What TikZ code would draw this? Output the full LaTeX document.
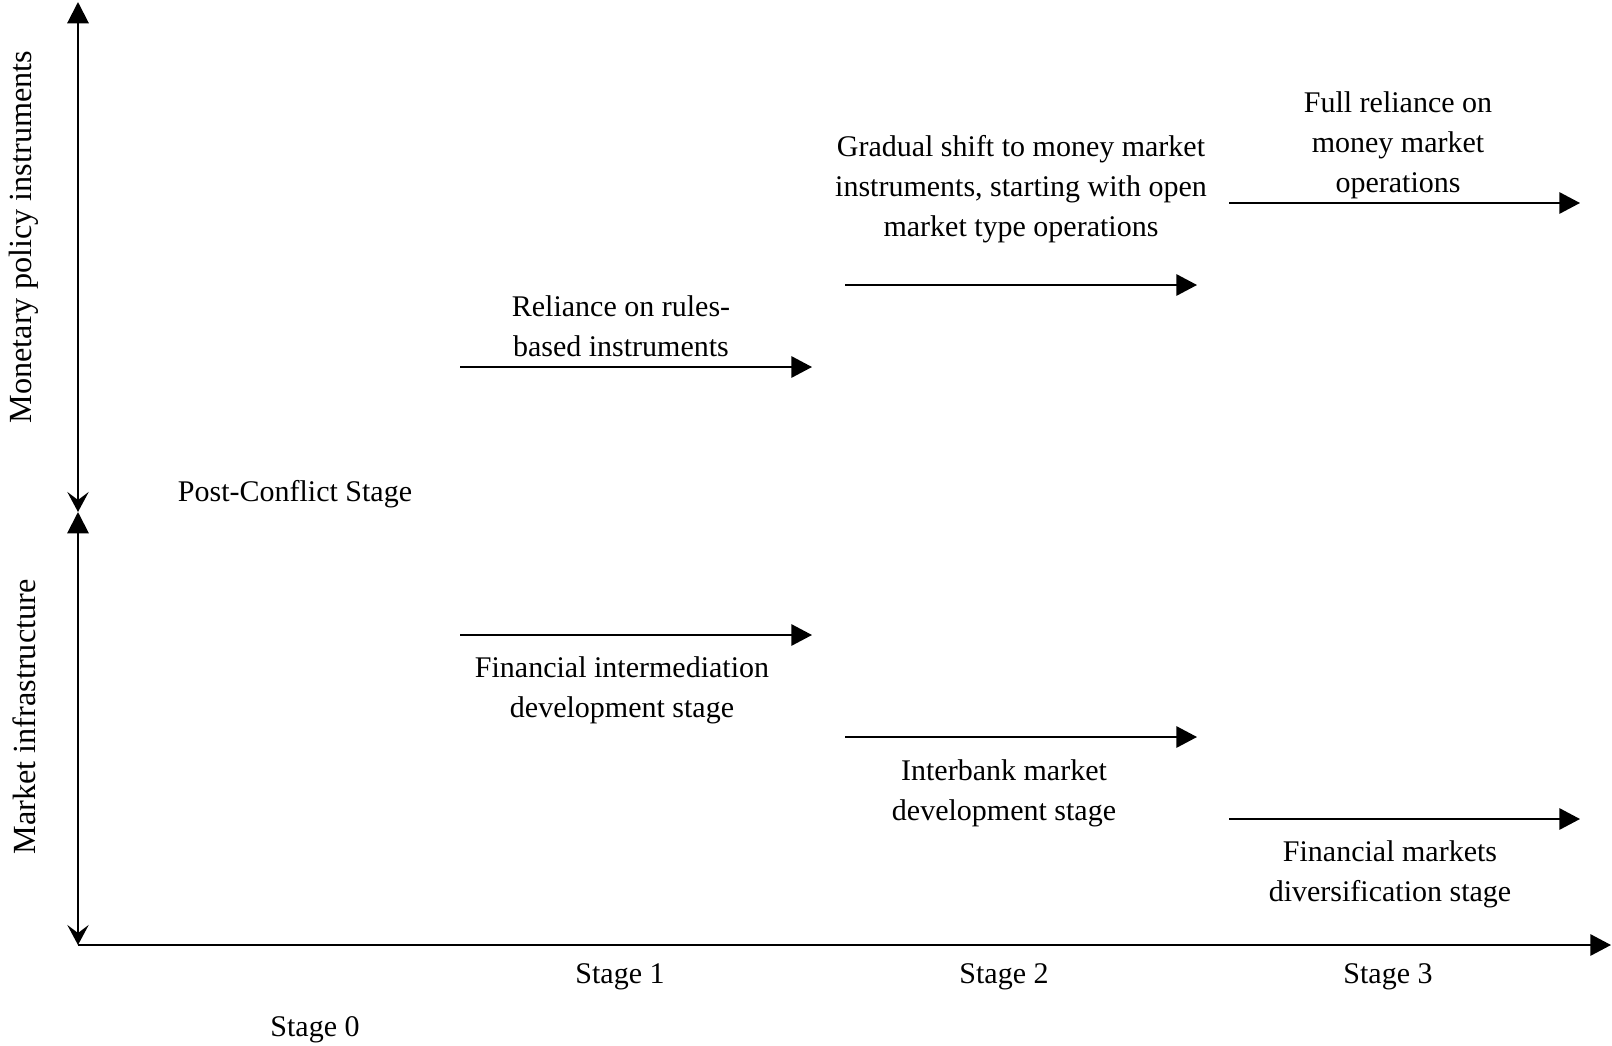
\documentclass[tikz,border=0pt]{standalone}
\usepackage{fontspec}
\setmainfont{Liberation Serif}
\usetikzlibrary{arrows.meta}
\tikzset{
  lbl/.style={align=center, inner sep=0pt, font=\fontsize{22.5}{30}\selectfont},
  side/.style={inner sep=0pt, rotate=90, font=\fontsize{24.2}{30}\selectfont},
  fwd/.style={line width=1.5pt, -{Triangle[length=15.5pt,width=16pt]}},
  ax/.style={line width=1.5pt, {Triangle[length=16pt,width=16pt]}-{Stealth[length=15pt,width=16pt,inset=6pt]}},
}
\begin{document}
\begin{tikzpicture}[x=0.75pt,y=-0.75pt]
  \useasboundingbox (0,0) rectangle (1612,1045);
  % axes
  \coordinate (top) at (78,2);
  \coordinate (mid) at (78,512);
  \coordinate (orig) at (78,945);
  \coordinate (xend) at (1611,945);
  \draw[ax] (top) -- (mid);
  \draw[ax] (mid) -- (orig);
  \draw[fwd] (orig) -- (xend);
  \node[side] (mpi) at (24,237) {Monetary policy instruments};
  \node[side] (minf) at (24,717) {Market infrastructure};

  % monetary policy instruments
  \coordinate (i1a) at (460,367);  \coordinate (i1b) at (812,367);
  \coordinate (i2a) at (845,285);  \coordinate (i2b) at (1197,285);
  \coordinate (i3a) at (1229,203); \coordinate (i3b) at (1580,203);
  \draw[fwd] (i1a) -- (i1b);
  \draw[fwd] (i2a) -- (i2b);
  \draw[fwd] (i3a) -- (i3b);
  \node[lbl] (rules) at (621,326) {Reliance on rules-\\based instruments};
  \node[lbl] (shift) at (1021,189) {Gradual shift to money market\\instruments, starting with open\\market type operations};
  \node[lbl] (full) at (1398,145) {Full reliance on\\money market\\operations};

  % market infrastructure
  \coordinate (m1a) at (460,635);  \coordinate (m1b) at (812,635);
  \coordinate (m2a) at (845,737);  \coordinate (m2b) at (1197,737);
  \coordinate (m3a) at (1229,819); \coordinate (m3b) at (1580,819);
  \draw[fwd] (m1a) -- (m1b);
  \draw[fwd] (m2a) -- (m2b);
  \draw[fwd] (m3a) -- (m3b);
  \node[lbl] (interm) at (622,690) {Financial intermediation\\development stage};
  \node[lbl] (interb) at (1004,793) {Interbank market\\development stage};
  \node[lbl] (divers) at (1390,874) {Financial markets\\diversification stage};

  % stages
  \node[lbl] (post) at (295,494) {Post-Conflict Stage};
  \node[lbl] (st0) at (315,1030) {Stage 0};
  \node[lbl] (st1) at (620,977) {Stage 1};
  \node[lbl] (st2) at (1004,977) {Stage 2};
  \node[lbl] (st3) at (1388,977) {Stage 3};
\end{tikzpicture}
\end{document}
